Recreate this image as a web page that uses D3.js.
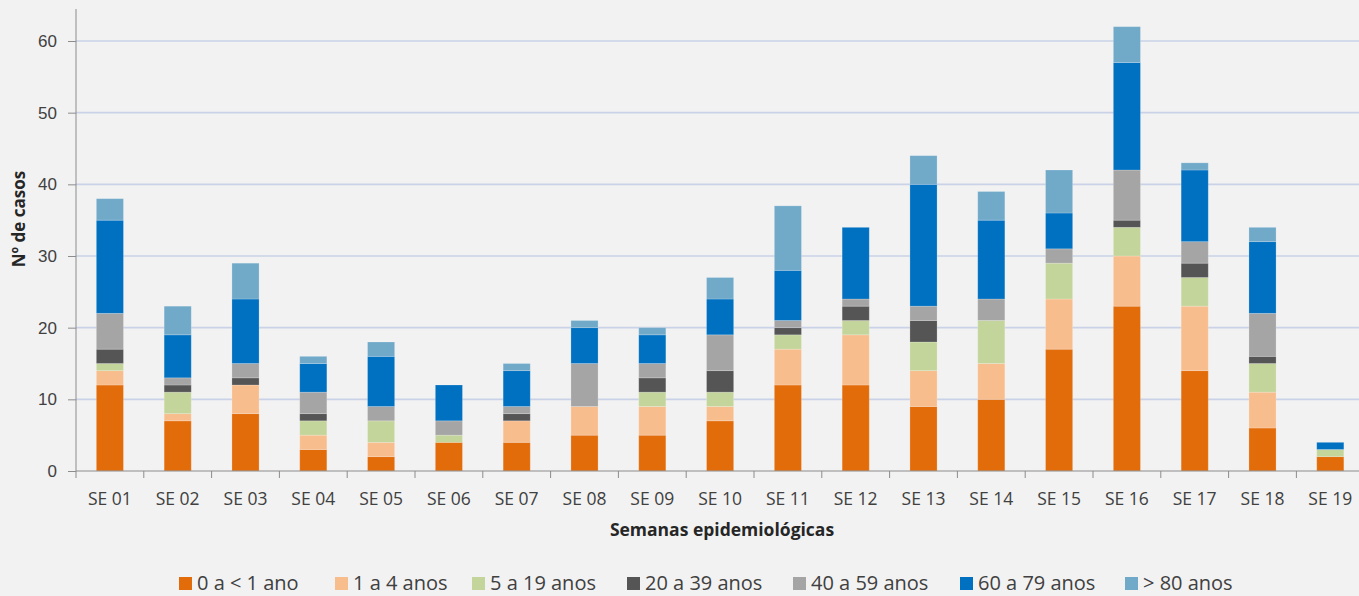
<!DOCTYPE html>
<html>
<head>
<meta charset="utf-8">
<script src="https://cdn.jsdelivr.net/npm/d3@7"></script>
<style>
  html, body { margin: 0; padding: 0; background: #f2f2f2; }
  svg { display: block; font-family: "Open Sans", "Noto Sans", sans-serif; }
</style>
</head>
<body>
<svg id="chart" width="1359" height="596"></svg>
<script>
// Epidemiological weeks
const weeks = ["SE 01","SE 02","SE 03","SE 04","SE 05","SE 06","SE 07","SE 08","SE 09","SE 10",
               "SE 11","SE 12","SE 13","SE 14","SE 15","SE 16","SE 17","SE 18","SE 19"];

// Age groups (stack order, bottom to top)
const ageGroups = ["0 a < 1 ano","1 a 4 anos","5 a 19 anos","20 a 39 anos","40 a 59 anos","60 a 79 anos","> 80 anos"];
const groupColors = ["#e36c0a","#f8bd8c","#c3d59b","#555555","#a5a5a5","#0070c0","#71a9c9"];

// Cases per week for each age group
const age0to1   = [12, 7, 8, 3, 2, 4, 4, 5, 5, 7, 12, 12,  9, 10, 17, 23, 14,  6, 2];
const age1to4   = [ 2, 1, 4, 2, 2, 0, 3, 4, 4, 2,  5,  7,  5,  5,  7,  7,  9,  5, 0];
const age5to19  = [ 1, 3, 0, 2, 3, 1, 0, 0, 2, 2,  2,  2,  4,  6,  5,  4,  4,  4, 1];
const age20to39 = [ 2, 1, 1, 1, 0, 0, 1, 0, 2, 3,  1,  2,  3,  0,  0,  1,  2,  1, 0];
const age40to59 = [ 5, 1, 2, 3, 2, 2, 1, 6, 2, 5,  1,  1,  2,  3,  2,  7,  3,  6, 0];
const age60to79 = [13, 6, 9, 4, 7, 5, 5, 5, 4, 5,  7, 10, 17, 11,  5, 15, 10, 10, 1];
const age80plus = [ 3, 4, 5, 1, 2, 0, 1, 1, 1, 3,  9,  0,  4,  4,  6,  5,  1,  2, 0];

const yTicks = [0, 10, 20, 30, 40, 50, 60];

const seriesValues = [age0to1, age1to4, age5to19, age20to39, age40to59, age60to79, age80plus];
const table = weeks.map((w, i) => {
  const row = { week: w };
  ageGroups.forEach((g, k) => { row[g] = seriesValues[k][i]; });
  return row;
});

const svg = d3.select("#chart");
const margin = { left: 76, top: 9, bottom: 125 };
const plotBottom = 596 - margin.bottom;   // y of value 0
const step = 67.8;
const plotRight = margin.left + step * weeks.length;

const x = d3.scaleBand().domain(weeks).range([margin.left, plotRight]).paddingInner(0.6).paddingOuter(0.3);
const y = d3.scaleLinear().domain([0, 60]).range([plotBottom, 41]);

// Horizontal gridlines
svg.append("g").selectAll("line").data(yTicks.filter(t => t > 0)).join("line")
  .attr("x1", margin.left).attr("x2", 1359)
  .attr("y1", d => y(d)).attr("y2", d => y(d))
  .attr("stroke", "#c9d2e6").attr("stroke-width", 1.6);

// Stacked bars
const stacked = d3.stack().keys(ageGroups)(table);
svg.append("g").selectAll("g").data(stacked).join("g")
  .attr("fill", (d, i) => groupColors[i])
  .selectAll("rect").data(d => d).join("rect")
  .attr("x", d => x(d.data.week))
  .attr("width", x.bandwidth())
  .attr("y", d => y(d[1]))
  .attr("height", d => y(d[0]) - y(d[1]))
  .attr("stroke", "rgba(255,255,255,0.25)")
  .attr("stroke-width", 0.8);

// Y axis
const yAxis = svg.append("g").attr("transform", `translate(${margin.left},0)`)
  .call(d3.axisLeft(y).tickValues(yTicks).tickSize(8).tickPadding(11));
yAxis.select(".domain").attr("stroke", "#8c8c8c").attr("d", `M-0,${margin.top}V${plotBottom}`);
yAxis.selectAll(".tick line").attr("stroke", "#8c8c8c");
yAxis.selectAll(".tick text").attr("fill", "#404040").style("font-size", "17px");

// X axis with boundary ticks between weeks
const xAxis = svg.append("g").attr("transform", `translate(0,${plotBottom})`);
xAxis.append("line").attr("x1", margin.left).attr("x2", 1359).attr("y1", 0).attr("y2", 0)
  .attr("stroke", "#8c8c8c").attr("stroke-width", 1.2);
const boundaries = d3.range(weeks.length + 1).map(i => margin.left + i * step);
xAxis.selectAll("line.tk").data(boundaries).join("line").attr("class", "tk")
  .attr("x1", d => d).attr("x2", d => d).attr("y1", 0).attr("y2", 7)
  .attr("stroke", "#8c8c8c");
xAxis.selectAll("text").data(weeks).join("text")
  .attr("x", d => x(d) + x.bandwidth() / 2)
  .attr("y", 34)
  .attr("text-anchor", "middle")
  .attr("fill", "#404040")
  .style("font-size", "17.5px")
  .text(d => d);

// Axis titles
svg.append("text")
  .attr("transform", `translate(25,219) rotate(-90)`)
  .attr("text-anchor", "middle")
  .attr("font-weight", "bold")
  .attr("fill", "#262626")
  .style("font-size", "17px")
  .text("Nº de casos");

svg.append("text")
  .attr("x", 722).attr("y", 536)
  .attr("text-anchor", "middle")
  .attr("font-weight", "bold")
  .attr("fill", "#262626")
  .style("font-size", "17.5px")
  .text("Semanas epidemiológicas");

// Legend
const legendX = [179, 335, 472, 627, 793, 960, 1125];
const legend = svg.append("g").selectAll("g").data(ageGroups).join("g")
  .attr("transform", (d, i) => `translate(${legendX[i]},590)`);
legend.append("rect").attr("x", 0).attr("y", -13).attr("width", 13).attr("height", 13)
  .attr("fill", (d, i) => groupColors[i]);
legend.append("text").attr("x", 18).attr("y", 0)
  .attr("fill", "#404040").style("font-size", "20px")
  .text(d => d);
</script>
</body>
</html>
